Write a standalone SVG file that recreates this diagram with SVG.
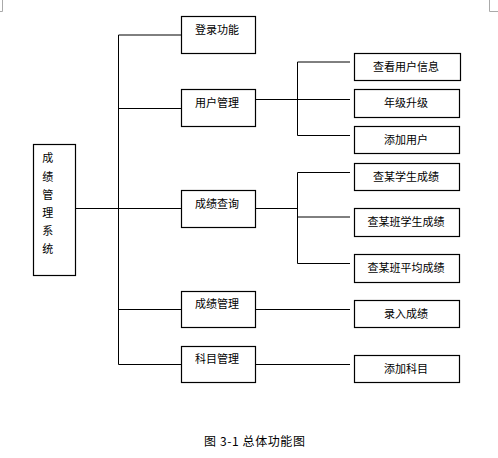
<svg xmlns="http://www.w3.org/2000/svg" width="498" height="458" viewBox="0 0 498 458">
<style>
.box{fill:#fff;stroke:#000;stroke-width:1.2}
.ln{fill:none;stroke:#000;stroke-width:1}
.t{font-family:"Noto Sans CJK SC","Liberation Sans",sans-serif;font-size:11px;fill:#000}
.c{text-anchor:middle}
.mark{fill:none;stroke:#aaa;stroke-width:1}
</style>
<rect width="498" height="458" fill="#fff"/>
<path class="mark" d="M2.5,0 V11.5 H0 M489.5,0 V11.5 H498"/>
<g id="connectors">
<path class="ln" d="M75.5,208.5 H181.5"/>
<path class="ln" d="M118.5,35 V364.5"/>
<path class="ln" d="M118.5,35 H181.5 M118.5,108.5 H181.5 M118.5,309.5 H181.5 M118.5,364.5 H181.5"/>
<path class="ln" d="M255.5,99.5 H350 M297.5,62 V135.5 M297.5,62 H350 M297.5,135.5 H350"/>
<path class="ln" d="M255.5,208.5 H297.5 M297.5,172.5 V263.5 M297.5,172.5 H350 M297.5,217 H350 M297.5,263.5 H350"/>
<path class="ln" d="M255.5,309.5 H350 M255.5,364.5 H350"/>
</g>
<g id="root">
<rect class="box" x="33.5" y="144.5" width="42" height="131"/>
<text class="t c" x="47.7" y="162.3">成</text>
<text class="t c" x="47.7" y="180.6">绩</text>
<text class="t c" x="47.7" y="198.9">管</text>
<text class="t c" x="47.7" y="216.7">理</text>
<text class="t c" x="47.7" y="235">系</text>
<text class="t c" x="47.7" y="253.3">统</text>
</g>
<g id="login"><rect class="box" x="181.5" y="16.5" width="74" height="37"/><text class="t c" x="217" y="34">登录功能</text></g>
<g id="user"><rect class="box" x="181.5" y="89.5" width="74" height="37"/><text class="t c" x="217" y="106.7">用户管理</text></g>
<g id="query"><rect class="box" x="181.5" y="190.5" width="74" height="37"/><text class="t c" x="217" y="208">成绩查询</text></g>
<g id="grade"><rect class="box" x="181.5" y="291.5" width="74" height="36"/><text class="t c" x="217" y="308">成绩管理</text></g>
<g id="subject"><rect class="box" x="181.5" y="346.5" width="74" height="36"/><text class="t c" x="217" y="362.7">科目管理</text></g>
<g id="viewuser"><rect class="box" x="354.5" y="53.5" width="106" height="27"/><text class="t c" x="406" y="70.8">查看用户信息</text></g>
<g id="upgrade"><rect class="box" x="354.5" y="89.5" width="105" height="28"/><text class="t c" x="406" y="107.3">年级升级</text></g>
<g id="adduser"><rect class="box" x="354.5" y="126.5" width="105" height="27"/><text class="t c" x="406" y="143.8">添加用户</text></g>
<g id="q1"><rect class="box" x="354.5" y="163.5" width="105" height="27"/><text class="t c" x="406" y="180.8">查某学生成绩</text></g>
<g id="q2"><rect class="box" x="354.5" y="208.5" width="105" height="28"/><text class="t c" x="406" y="226">查某班学生成绩</text></g>
<g id="q3"><rect class="box" x="354.5" y="254.5" width="105" height="28"/><text class="t c" x="406" y="272">查某班平均成绩</text></g>
<g id="entry"><rect class="box" x="354.5" y="300.5" width="105" height="27"/><text class="t c" x="406" y="317.8">录入成绩</text></g>
<g id="addsubject"><rect class="box" x="354.5" y="355.5" width="105" height="27"/><text class="t c" x="406" y="372.8">添加科目</text></g>
<text class="t" x="204" y="446" style="font-size:12px" textLength="101" lengthAdjust="spacing">图 3-1 总体功能图</text>
</svg>
